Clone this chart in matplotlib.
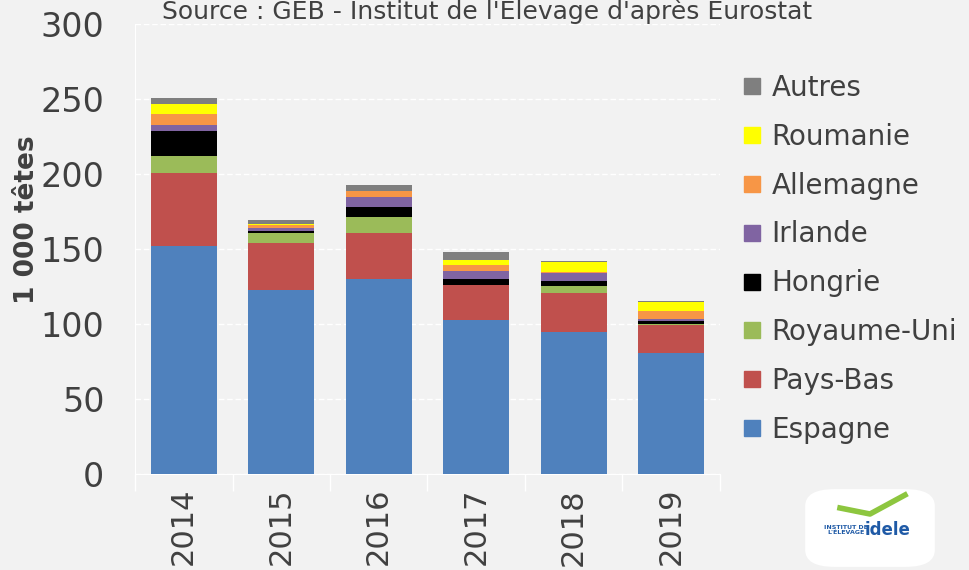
import matplotlib.pyplot as plt
from matplotlib.lines import Line2D
from matplotlib.patches import FancyBboxPatch
import numpy as np

plt.rcParams['font.family'] = ['DejaVu Sans']

annees = ['2014', '2015', '2016', '2017', '2018', '2019']
pays = ['Espagne', 'Pays-Bas', 'Royaume-Uni', 'Hongrie', 'Irlande',
        'Allemagne', 'Roumanie', 'Autres']
couleurs = ['#4F81BD', '#C0504D', '#9BBB59', '#000000', '#8064A2',
            '#F79646', '#FFFF00', '#7F7F7F']

# 1 000 tetes
espagne = [152, 123, 130, 103, 95, 80.5]
pays_bas = [49, 31, 30.5, 23, 26, 19]
royaume_uni = [11, 6.5, 11, 0.3, 4.3, 0.3]
hongrie = [17, 1.6, 6.2, 4, 3.6, 2]
irlande = [4, 2, 7, 5, 5, 1.5]
allemagne = [7, 2, 4, 4, 0.6, 5.6]
roumanie = [7, 0.3, 0.3, 3.7, 6.7, 5.5]
autres = [3.5, 2.9, 3.8, 4.8, 0.9, 0.7]

series = [espagne, pays_bas, royaume_uni, hongrie, irlande,
          allemagne, roumanie, autres]

fond = '#F2F2F2'
texte = '#404040'

fig = plt.figure(figsize=(9.69, 5.70), dpi=100, facecolor=fond)
ax = fig.add_axes([135/969, 1-474/570, 585/969, 450/570], facecolor=fond)

x = np.arange(len(annees))
bas = np.zeros(len(annees))
for nom, vals, c in zip(pays, series, couleurs):
    ax.bar(x, vals, 0.68, bottom=bas, color=c, label=nom, zorder=3)
    bas += np.array(vals)

ax.set_xlim(-0.5, len(annees) - 0.5)
ax.set_ylim(0, 300)
ax.set_yticks(range(0, 301, 50))
ax.tick_params(axis='y', labelsize=24, colors=texte, length=0, pad=22)
ax.set_xticks(x)
ax.set_xticklabels(annees, rotation=90, fontsize=22, color=texte)
ax.tick_params(axis='x', length=0, pad=10)
# petits traits entre les annees
ax.set_xticks(np.arange(-0.5, len(annees)), minor=True)
ax.tick_params(axis='x', which='minor', length=12, color='white', width=1)

ax.grid(axis='y', color='white', linestyle=(0, (4, 2)), linewidth=1, zorder=0)
for s in ['top', 'right']:
    ax.spines[s].set_visible(False)
ax.spines['left'].set_color('white')
ax.spines['bottom'].set_color('white')

ax.set_ylabel('1 000 têtes', fontsize=19, fontweight='bold', color=texte)
ax.yaxis.set_label_coords(-0.163, 0.565)

fig.text(487/969, 1-11/570, "Source : GEB - Institut de l'Elevage d'après Eurostat",
         ha='center', va='center', fontsize=18, color=texte)

handles = [Line2D([], [], marker='s', linestyle='none', markersize=11,
                  markerfacecolor=c, markeredgecolor=c) for c in couleurs]
leg = fig.legend(handles[::-1], pays[::-1], loc='upper left',
                 bbox_to_anchor=(716/969, 1-49/570), frameon=False,
                 fontsize=20, labelspacing=0.75, handlelength=0.8,
                 handletextpad=0.3, labelcolor=texte)

# logo idele
logo = FancyBboxPatch((810/969, 6/570), 120/969, 72/570,
                      boxstyle='round,pad=0.005,rounding_size=0.03',
                      transform=fig.transFigure, facecolor='white',
                      edgecolor='none')
fig.patches.append(logo)
fig.text(846/969, 1-530/570, 'INSTITUT DE\nL\'ÉLEVAGE', fontsize=4.5,
         color='#1F5AA6', fontweight='bold', ha='center', va='center',
         linespacing=1.0)
fig.text(888/969, 1-530/570, 'idele', fontsize=12, color='#1F5AA6',
         fontweight='bold', ha='center', va='center')
fig.lines.append(Line2D([840/969, 870/969, 905/969],
                        [1-508/570, 1-514/570, 1-495/570],
                        transform=fig.transFigure, color='#8DC63F', linewidth=4))

fig.savefig('out.png', dpi=100, facecolor=fond)
